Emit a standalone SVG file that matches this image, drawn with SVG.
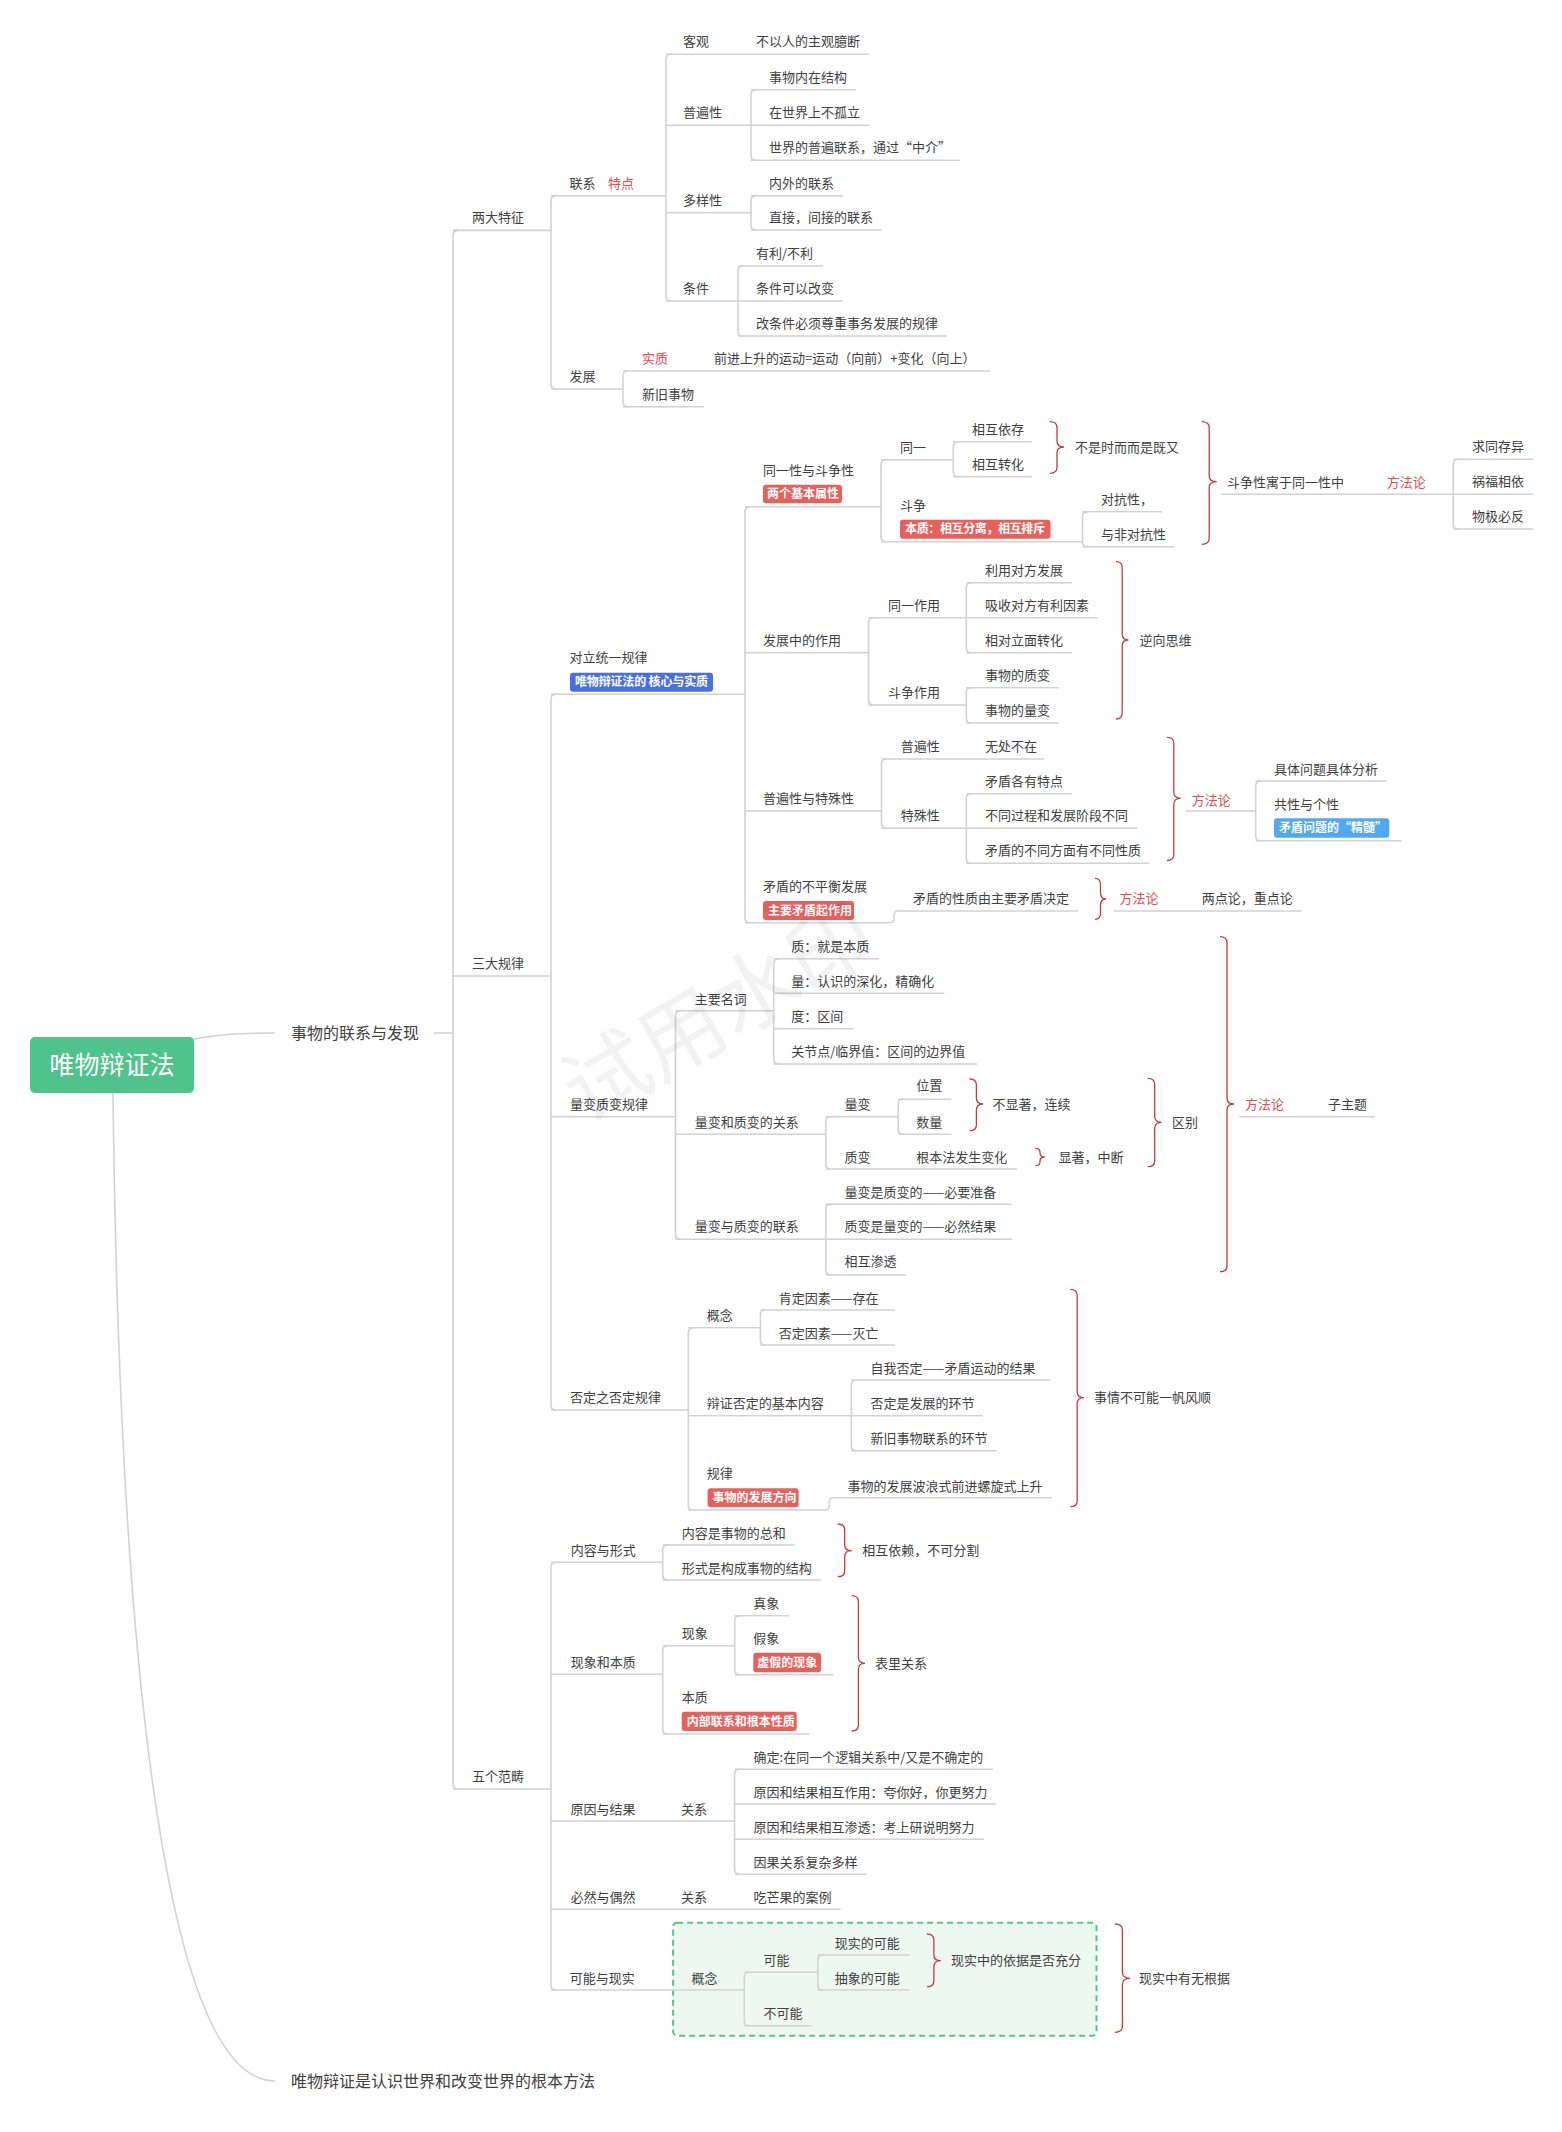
<svg xmlns="http://www.w3.org/2000/svg" width="1562" height="2132" viewBox="0 0 1562 2132">
<style>
text{font-family:"Noto Sans CJK SC","Liberation Sans",sans-serif;}
.t{font-size:13px;fill:#404040;}
.r{fill:#E84B4B;}
.h{font-size:16px;fill:#404040;}
.bt{font-size:12px;font-weight:bold;fill:#ffffff;}
.ln{stroke:#d2d2d2;stroke-width:1.6;fill:none;}
.br{stroke:#c8393a;stroke-width:1.3;fill:none;}
.rb{fill:#E8605C;}
.bb{fill:#4A6EE6;}
.lb{fill:#52A9EF;}
</style>
<rect width="1562" height="2132" fill="#ffffff"/>
<g id="group-box">
<rect x="673.1" y="1922.7" width="423.4" height="113" rx="4" fill="#edf8f1" stroke="#56c58a" stroke-width="2" stroke-dasharray="6,4"/>
</g>
<g id="connectors">
<path class="ln" d="M180,1042 C215,1034 240,1033 275,1033"/>
<path class="ln" d="M434,1033 H453"/>
<path class="ln" d="M113,1093 C120,1700 170,2081 275,2081"/>
<path class="ln" d="M458,230.4 Q453,230.4 453,235.4 V1784 Q453,1789 458,1789"/>
<path class="ln" d="M453,230.4 H551 M453,976 H551 M453,1789 H551"/>
<path class="ln" d="M556,195.7 Q551,195.7 551,200.7 V384 Q551,389 556,389"/>
<path class="ln" d="M551,195.7 H666 M551,389 H623"/>
<path class="ln" d="M671,54.3 Q666,54.3 666,59.3 V296 Q666,301 671,301"/>
<path class="ln" d="M666,54.3 H869 M666,125.3 H751 M666,212.7 H751 M666,301 H738"/>
<path class="ln" d="M756,89.7 Q751,89.7 751,94.7 V155.3 Q751,160.3 756,160.3"/>
<path class="ln" d="M751,89.7 H856 M751,125.3 H869 M751,160.3 H960"/>
<path class="ln" d="M756,195.7 Q751,195.7 751,200.7 V225 Q751,230 756,230"/>
<path class="ln" d="M751,195.7 H843 M751,230 H882"/>
<path class="ln" d="M743,266 Q738,266 738,271 V331 Q738,336 743,336"/>
<path class="ln" d="M738,266 H823 M738,301 H843 M738,336 H947"/>
<path class="ln" d="M628,371 Q623,371 623,376 V401.7 Q623,406.7 628,406.7"/>
<path class="ln" d="M623,371 H990 M623,406.7 H704"/>
<path class="ln" d="M556,694.3 Q551,694.3 551,699.3 V1405 Q551,1410 556,1410"/>
<path class="ln" d="M551,694.3 H745 M551,1116.7 H675.5 M551,1410 H688.3"/>
<path class="ln" d="M750,506.7 Q745,506.7 745,511.7 V917.7 Q745,922.7 750,922.7"/>
<path class="ln" d="M745,506.7 H881 M745,652.7 H868.6 M745,811 H881.5"/>
<path class="ln" d="M745,922.7 H890 Q894,922.7 894,918.7 V915 Q894,911 898,911 H1078"/>
<path class="ln" d="M886,459.7 Q881,459.7 881,464.7 V536.7 Q881,541.7 886,541.7"/>
<path class="ln" d="M881,459.7 H953.3 M881,541.7 H1082.5"/>
<path class="ln" d="M958.3,441.7 Q953.3,441.7 953.3,446.7 V471.7 Q953.3,476.7 958.3,476.7"/>
<path class="ln" d="M953.3,441.7 H1032 M953.3,476.7 H1032"/>
<path class="ln" d="M1087.5,511.7 Q1082.5,511.7 1082.5,516.7 V541.7 Q1082.5,546.7 1087.5,546.7"/>
<path class="ln" d="M1082.5,511.7 H1162 M1082.5,546.7 H1174"/>
<path class="ln" d="M1221,494.3 H1453.3"/>
<path class="ln" d="M1458.3,459.3 Q1453.3,459.3 1453.3,464.3 V524 Q1453.3,529 1458.3,529"/>
<path class="ln" d="M1453.3,459.3 H1533 M1453.3,494.3 H1533 M1453.3,529 H1533"/>
<path class="ln" d="M873.6,617.7 Q868.6,617.7 868.6,622.7 V700 Q868.6,705 873.6,705"/>
<path class="ln" d="M868.6,617.7 H966.3 M868.6,705 H966.3"/>
<path class="ln" d="M971.3,582.7 Q966.3,582.7 966.3,587.7 V647.7 Q966.3,652.7 971.3,652.7"/>
<path class="ln" d="M966.3,582.7 H1072 M966.3,617.7 H1098 M966.3,652.7 H1072"/>
<path class="ln" d="M971.3,687.7 Q966.3,687.7 966.3,692.7 V718 Q966.3,723 971.3,723"/>
<path class="ln" d="M966.3,687.7 H1059 M966.3,723 H1059"/>
<path class="ln" d="M886.5,759 Q881.5,759 881.5,764 V823.3 Q881.5,828.3 886.5,828.3"/>
<path class="ln" d="M881.5,759 H1044.5 M881.5,828.3 H966.3"/>
<path class="ln" d="M971.3,793.7 Q966.3,793.7 966.3,798.7 V858.3 Q966.3,863.3 971.3,863.3"/>
<path class="ln" d="M966.3,793.7 H1072 M966.3,828.3 H1137 M966.3,863.3 H1149"/>
<path class="ln" d="M1186,811 H1255.7"/>
<path class="ln" d="M1260.7,781 Q1255.7,781 1255.7,786 V835.7 Q1255.7,840.7 1260.7,840.7"/>
<path class="ln" d="M1255.7,781 H1386.7 M1255.7,840.7 H1401.7"/>
<path class="ln" d="M1114,911 H1301.7"/>
<path class="ln" d="M680.5,1010.7 Q675.5,1010.7 675.5,1015.7 V1234.3 Q675.5,1239.3 680.5,1239.3"/>
<path class="ln" d="M675.5,1010.7 H773.7 M675.5,1134.3 H825.8 M675.5,1239.3 H825.8"/>
<path class="ln" d="M778.7,958.7 Q773.7,958.7 773.7,963.7 V1059 Q773.7,1064 778.7,1064"/>
<path class="ln" d="M773.7,958.7 H879 M773.7,993.3 H944.3 M773.7,1028.7 H853.8 M773.7,1064 H977.2"/>
<path class="ln" d="M830.8,1116.7 Q825.8,1116.7 825.8,1121.7 V1164 Q825.8,1169 830.8,1169"/>
<path class="ln" d="M825.8,1116.7 H898.2 M825.8,1169 H1017"/>
<path class="ln" d="M903.2,1099.3 Q898.2,1099.3 898.2,1104.3 V1129.3 Q898.2,1134.3 903.2,1134.3"/>
<path class="ln" d="M898.2,1099.3 H951.4 M898.2,1134.3 H951.4"/>
<path class="ln" d="M830.8,1204.3 Q825.8,1204.3 825.8,1209.3 V1270 Q825.8,1275 830.8,1275"/>
<path class="ln" d="M825.8,1204.3 H1011.7 M825.8,1239.3 H1011.7 M825.8,1275 H906"/>
<path class="ln" d="M1239.4,1116.7 H1375"/>
<path class="ln" d="M693.3,1327.7 Q688.3,1327.7 688.3,1332.7 V1505 Q688.3,1510 693.3,1510"/>
<path class="ln" d="M688.3,1327.7 H760.4 M688.3,1415.7 H851.3"/>
<path class="ln" d="M688.3,1510 H825.3 Q829.3,1510 829.3,1506 V1501.7 Q829.3,1497.7 833.3,1497.7 H1052"/>
<path class="ln" d="M765.4,1310 Q760.4,1310 760.4,1315 V1340 Q760.4,1345 765.4,1345"/>
<path class="ln" d="M760.4,1310 H895 M760.4,1345 H895"/>
<path class="ln" d="M856.3,1380 Q851.3,1380 851.3,1385 V1445.7 Q851.3,1450.7 856.3,1450.7"/>
<path class="ln" d="M851.3,1380 H1050.6 M851.3,1415.7 H983 M851.3,1450.7 H996.8"/>
<path class="ln" d="M556,1562.3 Q551,1562.3 551,1567.3 V1985 Q551,1990 556,1990"/>
<path class="ln" d="M551,1562.3 H662.7 M551,1674.3 H662.7 M551,1821 H734.6 M551,1909.3 H840.7 M551,1990 H744.3"/>
<path class="ln" d="M667.7,1545 Q662.7,1545 662.7,1550 V1575 Q662.7,1580 667.7,1580"/>
<path class="ln" d="M662.7,1545 H795 M662.7,1580 H820.7"/>
<path class="ln" d="M667.7,1645.7 Q662.7,1645.7 662.7,1650.7 V1729 Q662.7,1734 667.7,1734"/>
<path class="ln" d="M662.7,1645.7 H734.7 M662.7,1734 H809.3"/>
<path class="ln" d="M739.7,1615.7 Q734.7,1615.7 734.7,1620.7 V1669.7 Q734.7,1674.7 739.7,1674.7"/>
<path class="ln" d="M734.7,1615.7 H789 M734.7,1674.7 H833.3"/>
<path class="ln" d="M739.6,1769.3 Q734.6,1769.3 734.6,1774.3 V1869.3 Q734.6,1874.3 739.6,1874.3"/>
<path class="ln" d="M734.6,1769.3 H992.9 M734.6,1804 H996.4 M734.6,1839.3 H984 M734.6,1874.3 H866.8"/>
<path class="ln" d="M749.3,1972.3 Q744.3,1972.3 744.3,1977.3 V2020.7 Q744.3,2025.7 749.3,2025.7"/>
<path class="ln" d="M744.3,1972.3 H817.8 M744.3,2025.7 H811.8"/>
<path class="ln" d="M822.8,1955 Q817.8,1955 817.8,1960 V1985 Q817.8,1990 822.8,1990"/>
<path class="ln" d="M817.8,1955 H909.6 M817.8,1990 H909.6"/>
<path class="br" d="M1050,421.7 Q1057,421.7 1057,427.7 L1057,441 Q1057,447 1064,447 Q1057,447 1057,453 L1057,467.3 Q1057,473.3 1050,473.3"/>
<path class="br" d="M1201.7,421.7 Q1209.2,421.7 1209.2,427.7 L1209.2,475.7 Q1209.2,481.7 1216.7,481.7 Q1209.2,481.7 1209.2,487.7 L1209.2,538.3 Q1209.2,544.3 1201.7,544.3"/>
<path class="br" d="M1116,561.7 Q1122.2,561.7 1122.2,567.7 L1122.2,634 Q1122.2,640 1128.4,640 Q1122.2,640 1122.2,646 L1122.2,713 Q1122.2,719 1116,719"/>
<path class="br" d="M1167,737.3 Q1173.8,737.3 1173.8,743.3 L1173.8,792.3 Q1173.8,798.3 1180.5,798.3 Q1173.8,798.3 1173.8,804.3 L1173.8,854.5 Q1173.8,860.5 1167,860.5"/>
<path class="br" d="M1095,878.3 Q1100.5,878.3 1100.5,884.3 L1100.5,893 Q1100.5,899 1106,899 Q1100.5,899 1100.5,905 L1100.5,913.3 Q1100.5,919.3 1095,919.3"/>
<path class="br" d="M969.5,1079 Q976.4,1079 976.4,1085 L976.4,1098 Q976.4,1104 983.2,1104 Q976.4,1104 976.4,1110 L976.4,1124.7 Q976.4,1130.7 969.5,1130.7"/>
<path class="br" d="M1035.3,1148.3 Q1040,1148.3 1040,1152.3 L1040,1153 Q1040,1157 1044.7,1157 Q1040,1157 1040,1161 L1040,1161.7 Q1040,1165.7 1035.3,1165.7"/>
<path class="br" d="M1147.8,1078.3 Q1154.7,1078.3 1154.7,1084.3 L1154.7,1116.3 Q1154.7,1122.3 1161.5,1122.3 Q1154.7,1122.3 1154.7,1128.3 L1154.7,1160.7 Q1154.7,1166.7 1147.8,1166.7"/>
<path class="br" d="M1220,936.7 Q1227,936.7 1227,942.7 L1227,1098 Q1227,1104 1234,1104 Q1227,1104 1227,1110 L1227,1265.7 Q1227,1271.7 1220,1271.7"/>
<path class="br" d="M1070.3,1289.3 Q1077.2,1289.3 1077.2,1295.3 L1077.2,1391.7 Q1077.2,1397.7 1084,1397.7 Q1077.2,1397.7 1077.2,1403.7 L1077.2,1500.7 Q1077.2,1506.7 1070.3,1506.7"/>
<path class="br" d="M837.7,1524 Q844.7,1524 844.7,1530 L844.7,1544.7 Q844.7,1550.7 851.7,1550.7 Q844.7,1550.7 844.7,1556.7 L844.7,1570.7 Q844.7,1576.7 837.7,1576.7"/>
<path class="br" d="M851.7,1595.7 Q858.4,1595.7 858.4,1601.7 L858.4,1657.3 Q858.4,1663.3 865,1663.3 Q858.4,1663.3 858.4,1669.3 L858.4,1725 Q858.4,1731 851.7,1731"/>
<path class="br" d="M927,1934 Q933.9,1934 933.9,1940 L933.9,1954.7 Q933.9,1960.7 940.8,1960.7 Q933.9,1960.7 933.9,1966.7 L933.9,1980.7 Q933.9,1986.7 927,1986.7"/>
<path class="br" d="M1114.8,1924 Q1122.4,1924 1122.4,1930 L1122.4,1972.3 Q1122.4,1978.3 1130,1978.3 Q1122.4,1978.3 1122.4,1984.3 L1122.4,2026.3 Q1122.4,2032.3 1114.8,2032.3"/>
</g>
<g id="root"><rect x="30" y="1037" width="164" height="56" rx="5" fill="#50C28B"/><text x="112" y="1074" text-anchor="middle" style="font-size:25px;fill:#fff">唯物辩证法</text></g>
<g id="n-main1"><text class="h" x="291" y="1038.5">事物的联系与发现</text></g>
<g id="n-main2"><text class="h" x="291" y="2086.5">唯物辩证是认识世界和改变世界的根本方法</text></g>
<g id="n-ldtz"><text class="t" x="472" y="222.4">两大特征</text></g>
<g id="n-sdgl"><text class="t" x="472" y="968">三大规律</text></g>
<g id="n-wgfc"><text class="t" x="472" y="1781">五个范畴</text></g>
<g id="n-lx"><text class="t" x="569.6" y="187.7">联系<tspan class="r" x="608">特点</tspan></text></g>
<g id="n-fz"><text class="t" x="569.6" y="381">发展</text></g>
<g id="n-kg"><text class="t" x="683" y="46.3">客观</text></g>
<g id="n-kg1"><text class="t" x="756" y="46.3">不以人的主观臆断</text></g>
<g id="n-pbx"><text class="t" x="683" y="117.3">普遍性</text></g>
<g id="n-dyx"><text class="t" x="683" y="204.7">多样性</text></g>
<g id="n-tj"><text class="t" x="683" y="293">条件</text></g>
<g id="n-pb1"><text class="t" x="769" y="81.7">事物内在结构</text></g>
<g id="n-pb2"><text class="t" x="769" y="117.3">在世界上不孤立</text></g>
<g id="n-pb3"><text class="t" x="769" y="152.3">世界的普遍联系，通过“中介”</text></g>
<g id="n-dy1"><text class="t" x="769" y="187.7">内外的联系</text></g>
<g id="n-dy2"><text class="t" x="769" y="222">直接，间接的联系</text></g>
<g id="n-tj1"><text class="t" x="756" y="258">有利/不利</text></g>
<g id="n-tj2"><text class="t" x="756" y="293">条件可以改变</text></g>
<g id="n-tj3"><text class="t" x="756" y="328">改条件必须尊重事务发展的规律</text></g>
<g id="n-sz"><text class="t r" x="642" y="363">实质</text></g>
<g id="n-sz1"><text class="t" x="714" y="363">前进上升的运动=运动（向前）+变化（向上）</text></g>
<g id="n-xjsw"><text class="t" x="642" y="398.7">新旧事物</text></g>
<g id="n-dltyt"><text class="t" x="569.5" y="661.5">对立统一规律</text><rect class="bb" x="570" y="672.7" width="143" height="19" rx="3"/><text class="bt" x="575" y="686.4" textLength="133" lengthAdjust="spacing">唯物辩证法的 核心与实质</text></g>
<g id="n-lbzb"><text class="t" x="570" y="1108.7">量变质变规律</text></g>
<g id="n-fdzfd"><text class="t" x="570" y="1402">否定之否定规律</text></g>
<g id="n-tyx"><text class="t" x="763" y="474.5">同一性与斗争性</text><rect class="rb" x="763" y="484.7" width="79" height="18.6" rx="3"/><text class="bt" x="767" y="498.2">两个基本属性</text></g>
<g id="n-fzzy"><text class="t" x="763" y="644.7">发展中的作用</text></g>
<g id="n-pbtx"><text class="t" x="763" y="803">普遍性与特殊性</text></g>
<g id="n-mdbph"><text class="t" x="763" y="891.2">矛盾的不平衡发展</text><rect class="rb" x="763" y="901" width="91" height="19" rx="3"/><text class="bt" x="768" y="914.7">主要矛盾起作用</text></g>
<g id="n-ty"><text class="t" x="900" y="451.7">同一</text></g>
<g id="n-dz"><text class="t" x="900" y="509.8">斗争</text><rect class="rb" x="900" y="519.7" width="150.5" height="19" rx="3"/><text class="bt" x="905" y="533.4" textLength="140" lengthAdjust="spacing">本质：相互分离，相互排斥</text></g>
<g id="n-xhyc"><text class="t" x="972" y="433.7">相互依存</text></g>
<g id="n-xhzh"><text class="t" x="972" y="468.7">相互转化</text></g>
<g id="n-bssr"><text class="t" x="1075" y="451.5">不是时而而是既又</text></g>
<g id="n-dkx"><text class="t" x="1101" y="503.7">对抗性，</text></g>
<g id="n-fdkx"><text class="t" x="1101" y="538.7">与非对抗性</text></g>
<g id="n-dzxyy"><text class="t" x="1227" y="487">斗争性寓于同一性中</text></g>
<g id="n-ffl1"><text class="t r" x="1386.7" y="487">方法论</text></g>
<g id="n-qtcy"><text class="t" x="1472" y="451.3">求同存异</text></g>
<g id="n-hfxy"><text class="t" x="1472" y="486.3">祸福相依</text></g>
<g id="n-wjbf"><text class="t" x="1472" y="521">物极必反</text></g>
<g id="n-tyzy"><text class="t" x="888" y="609.7">同一作用</text></g>
<g id="n-dzzy"><text class="t" x="888" y="697">斗争作用</text></g>
<g id="n-ly"><text class="t" x="985" y="574.7">利用对方发展</text></g>
<g id="n-xs"><text class="t" x="985" y="609.7">吸收对方有利因素</text></g>
<g id="n-xd"><text class="t" x="985" y="644.7">相对立面转化</text></g>
<g id="n-zb"><text class="t" x="985" y="679.7">事物的质变</text></g>
<g id="n-lb"><text class="t" x="985" y="715">事物的量变</text></g>
<g id="n-nxsw"><text class="t" x="1139.6" y="644.5">逆向思维</text></g>
<g id="n-pbx2"><text class="t" x="900.7" y="751">普遍性</text></g>
<g id="n-wcbz"><text class="t" x="985" y="751">无处不在</text></g>
<g id="n-tsx"><text class="t" x="900.7" y="820.3">特殊性</text></g>
<g id="n-ts1"><text class="t" x="985" y="785.7">矛盾各有特点</text></g>
<g id="n-ts2"><text class="t" x="985" y="820.3">不同过程和发展阶段不同</text></g>
<g id="n-ts3"><text class="t" x="985" y="855.3">矛盾的不同方面有不同性质</text></g>
<g id="n-ffl2"><text class="t r" x="1191.7" y="804.5">方法论</text></g>
<g id="n-jtwt"><text class="t" x="1274" y="773.5">具体问题具体分析</text></g>
<g id="n-gxyg"><text class="t" x="1274" y="808.8">共性与个性</text><rect class="lb" x="1274" y="818.3" width="115.3" height="19.4" rx="3"/><text class="bt" x="1279" y="832.2">矛盾问题的“精髓”</text></g>
<g id="n-mdxz"><text class="t" x="913" y="902.8">矛盾的性质由主要矛盾决定</text></g>
<g id="n-ffl3"><text class="t r" x="1119.5" y="903">方法论</text></g>
<g id="n-ldl"><text class="t" x="1201.7" y="903">两点论，重点论</text></g>
<g id="n-zymc"><text class="t" x="694.7" y="1003.5">主要名词</text></g>
<g id="n-lbgx"><text class="t" x="694.7" y="1126.8">量变和质变的关系</text></g>
<g id="n-lblx"><text class="t" x="694.7" y="1231.3">量变与质变的联系</text></g>
<g id="n-m1"><text class="t" x="791.2" y="951.2">质：就是本质</text></g>
<g id="n-m2"><text class="t" x="791.2" y="986.2">量：认识的深化，精确化</text></g>
<g id="n-m3"><text class="t" x="791.2" y="1021.2">度：区间</text></g>
<g id="n-m4"><text class="t" x="791.2" y="1056.2">关节点/临界值：区间的边界值</text></g>
<g id="n-lb2"><text class="t" x="844.4" y="1108.5">量变</text></g>
<g id="n-zb2"><text class="t" x="844.4" y="1161.8">质变</text></g>
<g id="n-gbf"><text class="t" x="916.3" y="1161.8">根本法发生变化</text></g>
<g id="n-wz"><text class="t" x="916.3" y="1090.2">位置</text></g>
<g id="n-sl"><text class="t" x="916.3" y="1126.8">数量</text></g>
<g id="n-bxz"><text class="t" x="992.5" y="1108.5">不显著，连续</text></g>
<g id="n-xz"><text class="t" x="1058.4" y="1161.5">显著，中断</text></g>
<g id="n-qb"><text class="t" x="1172" y="1126.8">区别</text></g>
<g id="n-lx1"><text class="t" x="844.4" y="1197.2">量变是质变的——必要准备</text></g>
<g id="n-lx2"><text class="t" x="844.4" y="1231.2">质变是量变的——必然结果</text></g>
<g id="n-lx3"><text class="t" x="844.4" y="1266.2">相互渗透</text></g>
<g id="n-ffl4"><text class="t r" x="1245" y="1108.5">方法论</text></g>
<g id="n-zzt"><text class="t" x="1328" y="1108.5">子主题</text></g>
<g id="n-gn1"><text class="t" x="706.7" y="1320.2">概念</text></g>
<g id="n-bzfd"><text class="t" x="706.7" y="1407.8">辩证否定的基本内容</text></g>
<g id="n-gl"><text class="t" x="706.7" y="1477.8">规律</text><rect class="rb" x="707.6" y="1488.3" width="91" height="19" rx="3"/><text class="bt" x="712.6" y="1502">事物的发展方向</text></g>
<g id="n-bl"><text class="t" x="847.6" y="1490.5">事物的发展波浪式前进螺旋式上升</text></g>
<g id="n-kd"><text class="t" x="778.7" y="1302.5">肯定因素——存在</text></g>
<g id="n-fdys"><text class="t" x="778.7" y="1337.5">否定因素——灭亡</text></g>
<g id="n-zwfd"><text class="t" x="870.6" y="1372.5">自我否定——矛盾运动的结果</text></g>
<g id="n-fdhj"><text class="t" x="870.6" y="1407.8">否定是发展的环节</text></g>
<g id="n-xjhj"><text class="t" x="870.6" y="1442.8">新旧事物联系的环节</text></g>
<g id="n-sqbk"><text class="t" x="1094" y="1402.2">事情不可能一帆风顺</text></g>
<g id="n-nrxs"><text class="t" x="570.7" y="1555">内容与形式</text></g>
<g id="n-xxbz"><text class="t" x="570.7" y="1666.5">现象和本质</text></g>
<g id="n-yyjg"><text class="t" x="570.4" y="1814">原因与结果</text></g>
<g id="n-byo"><text class="t" x="570.4" y="1902">必然与偶然</text></g>
<g id="n-knxs"><text class="t" x="569.8" y="1982.5">可能与现实</text></g>
<g id="n-nr1"><text class="t" x="681.7" y="1537.5">内容是事物的总和</text></g>
<g id="n-nr2"><text class="t" x="681.7" y="1572.5">形式是构成事物的结构</text></g>
<g id="n-xhyl"><text class="t" x="862.3" y="1555.2">相互依赖，不可分割</text></g>
<g id="n-xx"><text class="t" x="681.7" y="1637.8">现象</text></g>
<g id="n-bz"><text class="t" x="681.7" y="1701.8">本质</text><rect class="rb" x="681.7" y="1711.7" width="115" height="19.3" rx="3"/><text class="bt" x="686.7" y="1725.5">内部联系和根本性质</text></g>
<g id="n-zx"><text class="t" x="753.3" y="1607.8">真象</text></g>
<g id="n-jx"><text class="t" x="753.3" y="1642.8">假象</text><rect class="rb" x="753.3" y="1652.7" width="67.7" height="19.6" rx="3"/><text class="bt" x="757.3" y="1666.6">虚假的现象</text></g>
<g id="n-blgx"><text class="t" x="875" y="1667.8">表里关系</text></g>
<g id="n-gx1"><text class="t" x="681" y="1814">关系</text></g>
<g id="n-yg1"><text class="t" x="753.6" y="1761.5">确定:在同一个逻辑关系中/又是不确定的</text></g>
<g id="n-yg2"><text class="t" x="753.6" y="1796.5">原因和结果相互作用：夸你好，你更努力</text></g>
<g id="n-yg3"><text class="t" x="753.6" y="1831.5">原因和结果相互渗透：考上研说明努力</text></g>
<g id="n-yg4"><text class="t" x="753.6" y="1866.5">因果关系复杂多样</text></g>
<g id="n-gx2"><text class="t" x="681" y="1902">关系</text></g>
<g id="n-cmg"><text class="t" x="753.6" y="1902">吃芒果的案例</text></g>
<g id="n-gn2"><text class="t" x="691.5" y="1982.5">概念</text></g>
<g id="n-kn"><text class="t" x="763.6" y="1964.5">可能</text></g>
<g id="n-bkn"><text class="t" x="763.6" y="2017.8">不可能</text></g>
<g id="n-xskn"><text class="t" x="834.8" y="1947.5">现实的可能</text></g>
<g id="n-cxkn"><text class="t" x="834.8" y="1982.5">抽象的可能</text></g>
<g id="n-yjcf"><text class="t" x="951" y="1965.2">现实中的依据是否充分</text></g>
<g id="n-ywgj"><text class="t" x="1139" y="1982.8">现实中有无根据</text></g>
<g id="watermark"><text x="0" y="0" transform="translate(585,1125) rotate(-30)" style="font-size:86px;fill:#000;fill-opacity:0.05">试用水印</text></g>
</svg>
